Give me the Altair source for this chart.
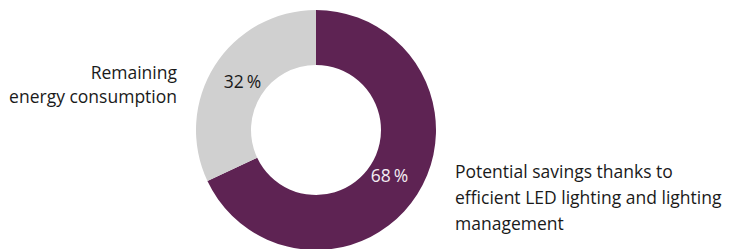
import altair as alt
import pandas as pd

# data
categories = ["Potential savings", "Remaining energy consumption"]
shares = [68, 32]
pct_labels = ["68\u2009%", "32\u2009%"]
slice_colors = ["#5e2353", "#d0d0d0"]
pct_colors = ["#f3ecf2", "#1a1a1a"]
orders = [0, 1]

label_left = "Remaining\nenergy consumption"
label_right = "Potential savings thanks to\nefficient LED lighting and lighting\nmanagement"

FONT = "Open Sans"
FS = 17.5
CX, CY = 308, 122

df = pd.DataFrame({
    "category": categories,
    "share": shares,
    "pct": pct_labels,
    "color": slice_colors,
    "pctcolor": pct_colors,
    "order": orders,
})

base = alt.Chart(df).encode(
    theta=alt.Theta("share:Q", stack=True),
    order=alt.Order("order:Q"),
    x=alt.value(CX),
    y=alt.value(CY),
)

arcs = base.mark_arc(innerRadius=65, outerRadius=120, strokeWidth=0).encode(
    color=alt.Color("color:N", scale=None)
)

pcts = base.mark_text(radius=87, font=FONT, fontSize=FS, align="center", baseline="middle").encode(
    text="pct:N",
    color=alt.Color("pctcolor:N", scale=None),
)

ann_df = pd.DataFrame({"t": [label_left]})
left = alt.Chart(ann_df).mark_text(
    font=FONT, fontSize=FS, align="right", baseline="alphabetic",
    lineBreak="\n", lineHeight=24, color="#1a1a1a"
).encode(text="t:N", x=alt.value(169), y=alt.value(71))

ann_df2 = pd.DataFrame({"t": [label_right]})
right = alt.Chart(ann_df2).mark_text(
    font=FONT, fontSize=FS, align="left", baseline="alphabetic",
    lineBreak="\n", lineHeight=26, color="#1a1a1a"
).encode(text="t:N", x=alt.value(447), y=alt.value(170))

chart = alt.layer(arcs, pcts, left, right).properties(
    width=715, height=241, padding=0, autosize=alt.AutoSizeParams(type="none")
).configure_view(stroke=None)

chart.save("out.html", embed_options={"renderer": "svg", "actions": False})
